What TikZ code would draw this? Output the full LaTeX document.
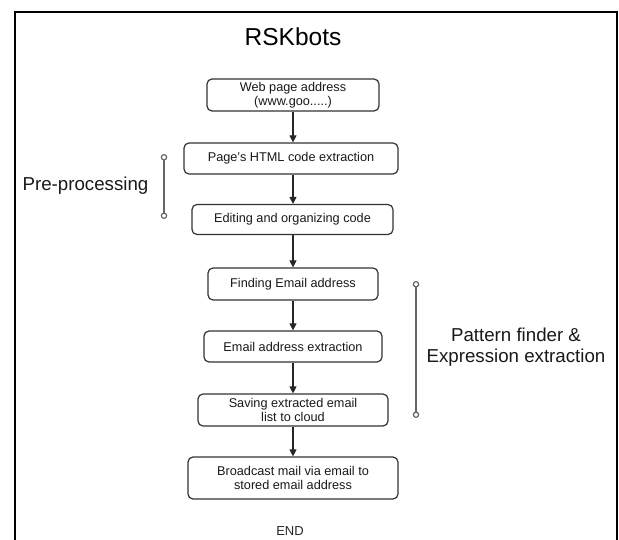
\documentclass[tikz,border=0pt]{standalone}
\usepackage{fontspec}
\setmainfont{Liberation Sans}
\usetikzlibrary{arrows.meta}
\tikzset{
    flow-box/.style = {draw=black!80, fill=white, line width=1.2pt, rectangle, rounded corners=5pt, align=center, inner sep=2pt, font=\fontsize{12.7}{14.5}\selectfont, text=black!90},
    flow-arrow/.style = {draw=black!85, line width=1.2pt, -{Triangle[length=7pt,width=7pt]}},
    phase-line/.style = {draw=black!60, line width=1.2pt, {Circle[open,length=6.5pt,width=6.5pt,line width=1.2pt]}-{Circle[open,length=6.5pt,width=6.5pt,line width=1.2pt]}},
    phase-label/.style = {font=\fontsize{18.7}{21}\selectfont, align=center, text=black!90},
}

\begin{document}
\begin{tikzpicture}[x=1pt,y=-1pt]
\useasboundingbox (0,0) rectangle (619,540);
\draw[line width=2pt] (15,545) |- (617,12) -- (617,545);
\node[font=\fontsize{24.5}{28}\selectfont] (title) at (293,37) {RSKbots};
\node[flow-box, minimum width=172pt, minimum height=32pt] (web) at (293,95) {Web page address\\(www.goo.....)};
\node[flow-box, minimum width=214pt, minimum height=31pt] (html) at (291,158.5) {Page's HTML code extraction};
\node[flow-box, minimum width=201pt, minimum height=30pt] (edit) at (292.5,219.5) {Editing and organizing code};
\node[flow-box, minimum width=170pt, minimum height=32pt] (find) at (293,284) {Finding Email address};
\node[flow-box, minimum width=178pt, minimum height=31pt] (extract) at (293,346.5) {Email address extraction};
\node[flow-box, minimum width=190pt, minimum height=32pt] (save) at (293,410) {Saving extracted email\\list to cloud};
\node[flow-box, minimum width=210pt, minimum height=42pt] (broadcast) at (293,478) {Broadcast mail via email to\\stored email address};
\node[font=\fontsize{13}{15}\selectfont, text=black!85] (end) at (290,531) {END};
\draw[flow-arrow] (web.south) -- (web.south |- html.north);
\draw[flow-arrow] (web.south |- html.south) -- (web.south |- edit.north);
\draw[flow-arrow] (web.south |- edit.south) -- (find.north);
\draw[flow-arrow] (find.south) -- (extract.north);
\draw[flow-arrow] (extract.south) -- (save.north);
\draw[flow-arrow] (save.south) -- (broadcast.north);
\coordinate (pre-top) at (164,154);
\coordinate (pre-bot) at (164,219);
\coordinate (pat-top) at (416,281);
\coordinate (pat-bot) at (416,418);
\draw[phase-line] (pre-top) -- (pre-bot);
\draw[phase-line] (pat-top) -- (pat-bot);
\node[phase-label] (pre) at (85.5,186) {Pre-processing};
\node[phase-label] (pattern) at (516,347) {Pattern finder \&\\Expression extraction};
\end{tikzpicture}
\end{document}
